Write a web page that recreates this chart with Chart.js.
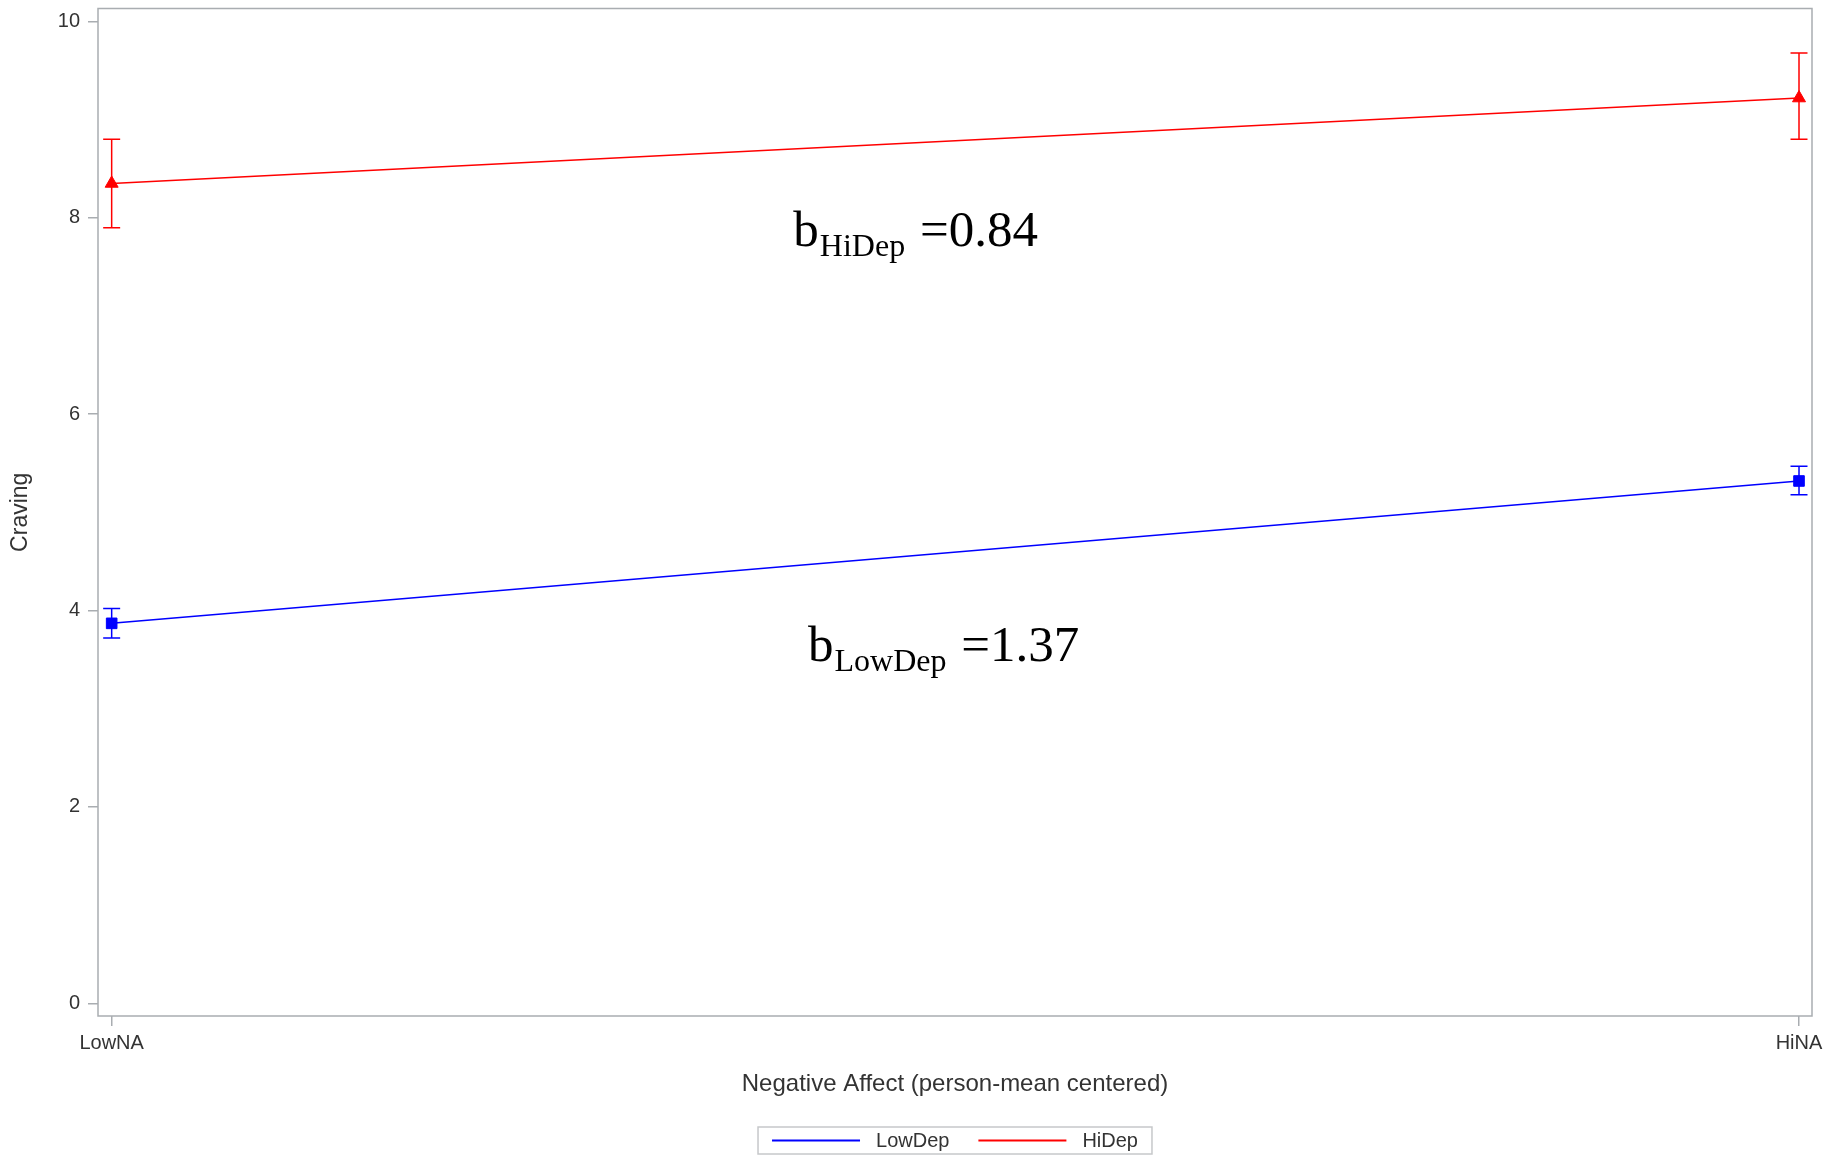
<!DOCTYPE html>
<html>
<head>
<meta charset="utf-8">
<title>Craving by Negative Affect</title>
<script src="https://cdn.jsdelivr.net/npm/chart.js@4/dist/chart.umd.min.js"></script>
<style>
  body { margin: 0; background: #fff; }
  #wrap { position: relative; width: 1845px; height: 1157px; }
</style>
</head>
<body>
<div id="wrap"><canvas id="js--chart"></canvas></div>
<script>
/* data */
const categories = ["LowNA", "HiNA"];
const xPos = [0, 1];
const yTicks = [0, 2, 4, 6, 8, 10];

const seriesNames = ["LowDep", "HiDep"];
const lowDepMean = [3.87, 5.32];
const lowDepLower = [3.72, 5.18];
const lowDepUpper = [4.02, 5.47];
const hiDepMean = [8.35, 9.22];
const hiDepLower = [7.90, 8.80];
const hiDepUpper = [8.80, 9.68];

// slope per group, written next to its line
const slopeGroups = ["HiDep", "LowDep"];
const slopes = ["0.84", "1.37"];

/* looks */
const gray = "#a9adb1";
const txt = "#333";
Chart.defaults.font.family = "'Liberation Sans', Arial, sans-serif";

function pts(vals) {
    return xPos.map((x, i) => ({ x: x, y: vals[i] }));
}

// vertical bars with caps for the lower / upper limits
const errorBars = {
    id: "errorBars",
    afterDatasetsDraw(chart) {
        const ctx = chart.ctx;
        const y = chart.scales.y;
        chart.data.datasets.forEach((ds, di) => {
            const meta = chart.getDatasetMeta(di);
            ctx.save();
            ctx.strokeStyle = ds.borderColor;
            ctx.lineWidth = 1.5;
            meta.data.forEach((pt, i) => {
                const top = y.getPixelForValue(ds.upper[i]);
                const bot = y.getPixelForValue(ds.lower[i]);
                ctx.beginPath();
                ctx.moveTo(pt.x, top); ctx.lineTo(pt.x, bot);
                ctx.moveTo(pt.x - 8.5, top); ctx.lineTo(pt.x + 8.5, top);
                ctx.moveTo(pt.x - 8.5, bot); ctx.lineTo(pt.x + 8.5, bot);
                ctx.stroke();
            });
            ctx.restore();
        });
    }
};

// box round the plot area
const frame = {
    id: "frame",
    afterDraw(chart) {
        const a = chart.chartArea;
        const ctx = chart.ctx;
        ctx.save();
        ctx.strokeStyle = gray;
        ctx.lineWidth = 1.5;
        ctx.strokeRect(a.left, a.top, a.right - a.left, a.bottom - a.top);
        ctx.restore();
    }
};

// "b_group =slope" notes, placed in data units
const notePlaces = [
    { x: 0.404, y: 7.71 },
    { x: 0.4127, y: 3.49 }
];
const slopeNotes = {
    id: "slopeNotes",
    afterDatasetsDraw(chart) {
        const ctx = chart.ctx;
        const sx = chart.scales.x, sy = chart.scales.y;
        ctx.save();
        ctx.fillStyle = "#000";
        ctx.textBaseline = "alphabetic";
        slopeGroups.forEach((g, i) => {
            let px = sx.getPixelForValue(notePlaces[i].x);
            const py = sy.getPixelForValue(notePlaces[i].y);
            ctx.font = "51px 'Liberation Serif', serif";
            ctx.fillText("b", px, py);
            px += ctx.measureText("b").width + 1;
            ctx.font = "32px 'Liberation Serif', serif";
            ctx.fillText(g, px, py + 10);
            px += ctx.measureText(g).width + 2;
            ctx.font = "51px 'Liberation Serif', serif";
            ctx.fillText(" =" + slopes[i], px, py);
        });
        ctx.restore();
    }
};

// legend with a border, centred under the plot
const boxLegend = {
    id: "boxLegend",
    afterDraw(chart) {
        const ctx = chart.ctx;
        const area = chart.chartArea;
        ctx.save();
        ctx.font = "20px 'Liberation Sans', Arial, sans-serif";
        const lineLen = 88, pad = 14, gapIn = 16, gapOut = 29;
        const items = chart.data.datasets.map(ds => ({ ds: ds, w: ctx.measureText(ds.label).width }));
        const total = pad * 2 + items.reduce((s, it) => s + lineLen + gapIn + it.w, 0) + gapOut * (items.length - 1);
        let x = (area.left + area.right) / 2 - total / 2;
        const top = chart.height - 30, h = 27, cy = top + h / 2;
        ctx.strokeStyle = "#c6c8ca";
        ctx.lineWidth = 1.5;
        ctx.strokeRect(x, top, total, h);
        x += pad;
        ctx.textBaseline = "middle";
        items.forEach(it => {
            ctx.strokeStyle = it.ds.borderColor;
            ctx.lineWidth = 2;
            ctx.beginPath();
            ctx.moveTo(x, cy); ctx.lineTo(x + lineLen, cy);
            ctx.stroke();
            x += lineLen + gapIn;
            ctx.fillStyle = txt;
            ctx.fillText(it.ds.label, x, cy + 1);
            x += it.w + gapOut;
        });
        ctx.restore();
    }
};

const data = {
    datasets: [
        {
            label: seriesNames[0],
            data: pts(lowDepMean),
            lower: lowDepLower,
            upper: lowDepUpper,
            borderColor: "#0000ff",
            backgroundColor: "#0000ff",
            borderWidth: 1.5,
            pointStyle: "rect",
            pointRadius: 7.5,
            pointBorderWidth: 1
        },
        {
            label: seriesNames[1],
            data: pts(hiDepMean),
            lower: hiDepLower,
            upper: hiDepUpper,
            borderColor: "#ff0000",
            backgroundColor: "#ff0000",
            borderWidth: 1.5,
            pointStyle: "triangle",
            pointRadius: 7.5,
            pointBorderWidth: 1
        }
    ]
};

const config = {
    type: "line",
    data: data,
    options: {
        responsive: true,
        maintainAspectRatio: false,
        animation: false,
        layout: { padding: { top: 7, right: 33, bottom: 41, left: 0 } },
        plugins: {
            legend: { display: false },
            tooltip: { enabled: false }
        },
        scales: {
            x: {
                type: "linear",
                min: -0.0081,
                max: 1.0077,
                afterBuildTicks: s => { s.ticks = xPos.map(v => ({ value: v })); },
                afterFit: s => { s.height = 100; s.paddingLeft = 0; s.paddingRight = 0; },
                ticks: {
                    callback: (v, i) => categories[i],
                    color: txt,
                    font: { size: 20 },
                    padding: 5,
                    maxRotation: 0,
                    autoSkip: false
                },
                grid: { drawOnChartArea: false, tickLength: 10, color: gray, lineWidth: 1.5 },
                border: { display: false },
                title: {
                    display: true,
                    text: "Negative Affect (person-mean centered)",
                    color: txt,
                    font: { size: 24 },
                    padding: { top: 0, bottom: 17 }
                }
            },
            y: {
                min: -0.129,
                max: 10.132,
                afterBuildTicks: s => { s.ticks = yTicks.map(v => ({ value: v })); },
                afterFit: s => { s.width = 98; s.paddingTop = 0; s.paddingBottom = 0; },
                ticks: { color: txt, font: { size: 20 }, padding: 8 },
                grid: { drawOnChartArea: false, tickLength: 10, color: gray, lineWidth: 1.5 },
                border: { display: false },
                title: {
                    display: true,
                    text: "Craving",
                    color: txt,
                    font: { size: 23 },
                    padding: { top: 7, bottom: 0 }
                }
            }
        }
    },
    plugins: [frame, errorBars, slopeNotes, boxLegend]
};

new Chart(document.getElementById("js--chart"), config);
</script>
</body>
</html>
